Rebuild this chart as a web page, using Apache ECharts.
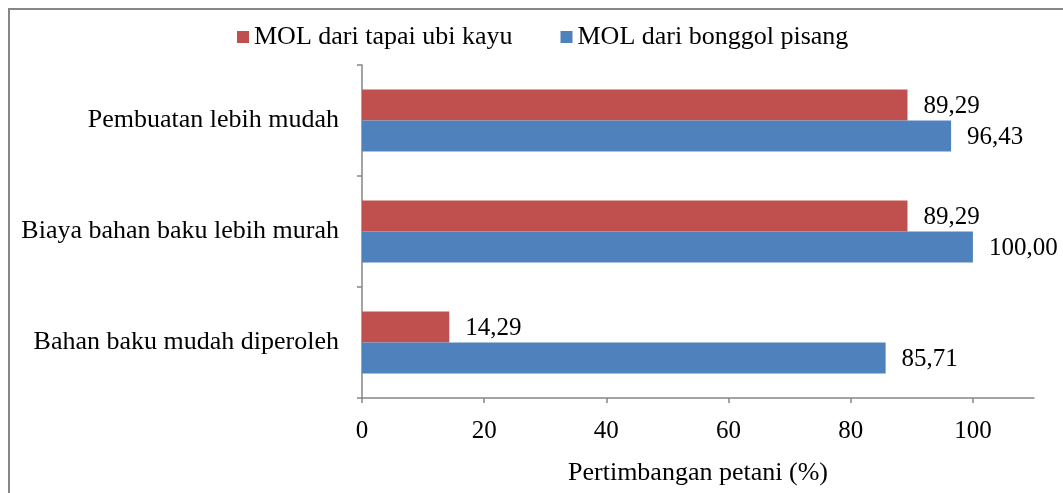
<!DOCTYPE html>
<html>
<head>
<meta charset="utf-8">
<script src="https://cdn.jsdelivr.net/npm/echarts@6/dist/echarts.min.js"></script>
<style>
    html, body { margin: 0; padding: 0; background: #fff; }
    #chart { width: 1063px; height: 493px; }
</style>
</head>
<body>
<div id="chart"></div>
<script>
const categories = ['Bahan baku mudah diperoleh', 'Biaya bahan baku lebih murah', 'Pembuatan lebih mudah'];
const tapaiValues = [14.29, 89.29, 89.29];
const bonggolValues = [85.71, 100.00, 96.43];
const xTicks = [0, 20, 40, 60, 80, 100];

const font = 'Liberation Serif';
const axisGray = '#868686';

const fmt = (p) => p.value.toFixed(2).replace('.', ',');

const chart = echarts.init(document.getElementById('chart'));

chart.setOption({
    animation: false,
    textStyle: { fontFamily: font, color: '#000' },
    graphic: [
        {
            type: 'rect',
            shape: { x: 9, y: 9, width: 1100, height: 600 },
            style: { fill: 'none', stroke: axisGray, lineWidth: 2 },
        },
    ],
    legend: {
        top: 19,
        left: 232,
        icon: 'rect',
        itemWidth: 12,
        itemHeight: 12,
        itemGap: 48,
        textStyle: { fontFamily: font, fontSize: 26, color: '#000' },
        data: ['MOL dari tapai ubi kayu', 'MOL dari bonggol pisang'],
    },
    grid: {
        left: 362,
        top: 65,
        width: 672,
        height: 333,
    },
    xAxis: {
        type: 'value',
        min: 0,
        max: 110,
        name: 'Pertimbangan petani (%)',
        nameLocation: 'middle',
        nameGap: 62,
        nameTextStyle: { fontFamily: font, fontSize: 26, color: '#000' },
        axisLine: { show: true, lineStyle: { color: axisGray, width: 1.5 } },
        axisTick: { show: true, length: 5, customValues: xTicks, lineStyle: { color: axisGray, width: 1.5 } },
        axisLabel: { customValues: xTicks, margin: 21, fontFamily: font, fontSize: 25, color: '#000' },
        splitLine: { show: false },
    },
    yAxis: {
        type: 'category',
        data: categories,
        axisLine: { show: true, lineStyle: { color: axisGray, width: 1.5 } },
        axisTick: { show: true, length: 5, lineStyle: { color: axisGray, width: 1.5 } },
        axisLabel: { margin: 23, fontFamily: font, fontSize: 26, color: '#000' },
    },
    series: [
        {
            name: 'MOL dari tapai ubi kayu',
            type: 'bar',
            data: tapaiValues,
            barWidth: 31,
            barGap: '0%',
            itemStyle: { color: '#C0504D' },
            label: {
                show: true,
                position: 'right',
                distance: 16,
                offset: [0, 1],
                formatter: fmt,
                fontFamily: font,
                fontSize: 25,
                color: '#000',
            },
        },
        {
            name: 'MOL dari bonggol pisang',
            type: 'bar',
            data: bonggolValues,
            barWidth: 31,
            barGap: '0%',
            itemStyle: { color: '#4F81BD' },
            label: {
                show: true,
                position: 'right',
                distance: 16,
                offset: [0, 1],
                formatter: fmt,
                fontFamily: font,
                fontSize: 25,
                color: '#000',
            },
        },
    ],
});
</script>
</body>
</html>
